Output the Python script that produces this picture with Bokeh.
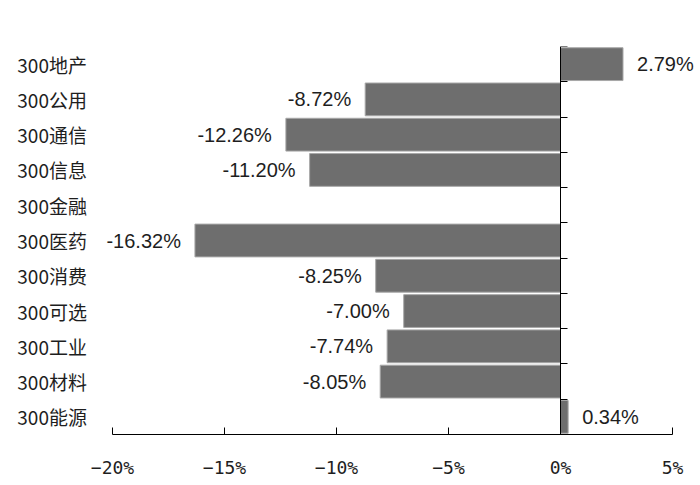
import math
from bokeh.plotting import figure
from bokeh.models import ColumnDataSource, FixedTicker, CustomJSTickFormatter, Range1d
from bokeh.core.properties import value
from bokeh.embed import file_html
from bokeh.resources import INLINE

categories = ["300地产", "300公用", "300通信", "300信息", "300金融", "300医药",
              "300消费", "300可选", "300工业", "300材料", "300能源"]
values = [2.79, -8.72, -12.26, -11.20, float("nan"), -16.32,
          -8.25, -7.00, -7.74, -8.05, 0.34]
x_ticks = [-20, -15, -10, -5, 0, 5]

n = len(categories)
ypos = [n - i - 0.5 for i in range(n)]

p = figure(width=696, height=485, output_backend="svg", toolbar_location=None,
           x_range=Range1d(-24.286, 6.071), y_range=Range1d(0, n),
           min_border_left=16, min_border_right=0, min_border_top=46,
           min_border_bottom=51)
p.outline_line_color = None
p.grid.visible = False
p.background_fill_color = "white"
p.border_fill_color = "white"

bars = ColumnDataSource(dict(
    y=[y for y, v in zip(ypos, values) if not math.isnan(v)],
    v=[v for v in values if not math.isnan(v)],
))
p.hbar(y="y", right="v", left=0, height=0.93, source=bars,
       fill_color="#6e6e6e", line_color="#a8a8a8", line_width=1)

# value labels
neg = ColumnDataSource(dict(
    y=[y for y, v in zip(ypos, values) if not math.isnan(v) and v < 0],
    v=[v for v in values if not math.isnan(v) and v < 0],
    t=["%.2f%%" % v for v in values if not math.isnan(v) and v < 0],
))
pos = ColumnDataSource(dict(
    y=[y for y, v in zip(ypos, values) if not math.isnan(v) and v >= 0],
    v=[v for v in values if not math.isnan(v) and v >= 0],
    t=["%.2f%%" % v for v in values if not math.isnan(v) and v >= 0],
))
p.text(x="v", y="y", text="t", source=neg, text_align="right", text_baseline="middle",
       x_offset=-14, text_font=value("Liberation Sans"), text_font_size="20px",
       text_color="#1e1e1e")
p.text(x="v", y="y", text="t", source=pos, text_align="left", text_baseline="middle",
       x_offset=14, text_font=value("Liberation Sans"), text_font_size="20px",
       text_color="#1e1e1e")

# category labels
cats = ColumnDataSource(dict(y=ypos, t=categories, x=[-24.25] * n))
p.text(x="x", y="y", text="t", source=cats, text_align="left", text_baseline="middle",
       text_font=value("Noto Sans CJK SC"), text_font_size="19px", text_color="#1e1e1e")

# x axis
xa = p.xaxis[0]
xa.ticker = FixedTicker(ticks=x_ticks)
xa.formatter = CustomJSTickFormatter(code="return (tick < 0 ? '\u2212' : '') + Math.abs(tick) + '%';")
xa.bounds = (-20, 5)
xa.major_tick_in = 7
xa.major_tick_out = 0
xa.minor_tick_line_color = None
xa.axis_line_color = "black"
xa.major_tick_line_color = "black"
xa.major_label_standoff = 22
xa.major_label_text_font = "DejaVu Sans Mono"
xa.major_label_text_font_size = "18px"
xa.major_label_text_color = "#1e1e1e"

# y axis at x = 0
ya = p.yaxis[0]
ya.fixed_location = 0
ya.ticker = FixedTicker(ticks=list(range(n + 1)))
ya.formatter = CustomJSTickFormatter(code="return '';")
ya.major_tick_in = 7
ya.major_tick_out = 0
ya.minor_tick_line_color = None
ya.axis_line_color = "black"
ya.major_tick_line_color = "black"

open("out.html", "w").write(file_html(p, INLINE))
